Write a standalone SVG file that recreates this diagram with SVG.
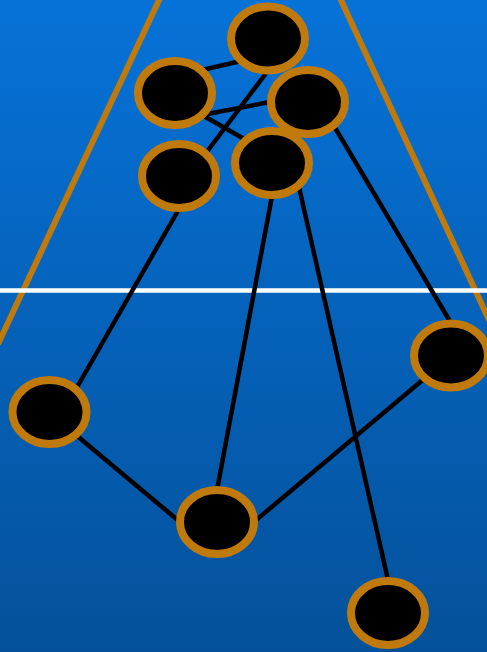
<svg xmlns="http://www.w3.org/2000/svg" width="487" height="652" viewBox="0 0 487 652">
<defs>
<linearGradient id="bg" x1="0" y1="0" x2="0" y2="1">
<stop offset="0" stop-color="#0672D8"/>
<stop offset="1" stop-color="#04519A"/>
</linearGradient>
<style>
.n{fill:#000;stroke:#C07A0C;stroke-width:8}
.e{stroke:#000;stroke-width:4.5;fill:none}
.g{stroke:#C07A0C;stroke-width:6;fill:none}
</style>
</defs>
<rect width="487" height="652" fill="url(#bg)"/>
<line class="g" x1="160" y1="-2" x2="-2" y2="344"/>
<line class="g" x1="340" y1="-2" x2="490" y2="322"/>
<line x1="0" y1="290.5" x2="487" y2="290.5" stroke="#fff" stroke-width="4.5"/>
<g id="connectors">
<line class="e" x1="202" y1="70" x2="241" y2="61"/>
<line class="e" x1="267" y1="72" x2="206" y2="153"/>
<line class="e" x1="202" y1="115" x2="270" y2="102"/>
<line class="e" x1="202" y1="115" x2="246" y2="140"/>
<line class="e" x1="334" y1="126" x2="451" y2="323"/>
<line class="e" x1="179" y1="209" x2="76" y2="389"/>
<line class="e" x1="272" y1="196" x2="217" y2="490"/>
<line class="e" x1="299" y1="187" x2="388" y2="580"/>
<line class="e" x1="76" y1="435" x2="180" y2="522"/>
<line class="e" x1="255" y1="521" x2="425" y2="378"/>
</g>
<g id="n1"><ellipse class="n" cx="268" cy="38.5" rx="37" ry="32"/></g>
<g id="n2"><ellipse class="n" cx="175" cy="93" rx="37" ry="32"/></g>
<g id="n3"><ellipse class="n" cx="308" cy="102" rx="37" ry="32"/></g>
<g id="n4"><ellipse class="n" cx="179" cy="176" rx="37" ry="32"/></g>
<g id="n5"><ellipse class="n" cx="272" cy="163" rx="37" ry="32"/></g>
<g id="n6"><ellipse class="n" cx="49.5" cy="412" rx="37" ry="32"/></g>
<g id="n7"><ellipse class="n" cx="451" cy="355.5" rx="37" ry="32"/></g>
<g id="n8"><ellipse class="n" cx="217" cy="522" rx="37" ry="32"/></g>
<g id="n9"><ellipse class="n" cx="388" cy="613" rx="37" ry="32"/></g>
</svg>
